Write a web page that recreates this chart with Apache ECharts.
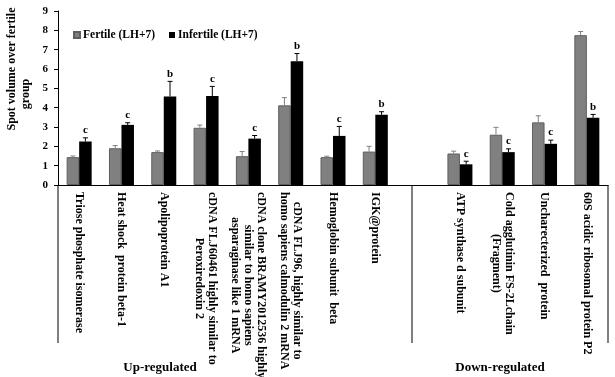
<!DOCTYPE html>
<html>
<head>
<meta charset="utf-8">
<script src="https://cdn.jsdelivr.net/npm/echarts@6/dist/echarts.min.js"></script>
<style>
  html, body { margin: 0; padding: 0; background: #fff; }
  #chart { width: 615px; height: 377px; }
</style>
</head>
<body>
<div id="chart"></div>
<script>
// protein spots, the empty one keeps the gap between the two groups
var categories = [
    'Triose phosphate isomerase',
    'Heat shock  protein beta-1',
    'Apolipoprotein A1',
    'cDNA FLJ60461 highly similar to\nPeroxiredoxin 2',
    'cDNA clone BRAMY2012536 highly\nsimilar to homo sapiens\nasparaginase like 1 mRNA',
    'cDNA FLJ96, highly similar to\nhomo sapiens calmodulin 2 mRNA',
    'Hemoglobin subunit  beta',
    'IGK@protein',
    '',
    'ATP synthase d subunit',
    'Cold agglutinin FS-2Lchain\n(Fragment)',
    'Uncharecterized  protein',
    '60S acidic ribosomal protein P2'
];
var fertile      = [1.44, 1.90, 1.70, 2.96, 1.49, 4.12, 1.44, 1.73, null, 1.63, 2.60, 3.24, 7.75];
var fertileErr   = [0.06, 0.14, 0.06, 0.14, 0.24, 0.40, 0.05, 0.27, null, 0.12, 0.38, 0.34, 0.19];
var infertile    = [2.25, 3.11, 4.58, 4.60, 2.40, 6.40, 2.54, 3.63, null, 1.07, 1.70, 2.13, 3.48];
var infertileErr = [0.19, 0.11, 0.78, 0.50, 0.16, 0.40, 0.49, 0.16, null, 0.16, 0.17, 0.19, 0.17];
var letters      = ['c', 'c', 'b', 'c', 'c', 'b', 'c', 'b', '', 'c', 'c', 'c', 'b'];
var yTicks = [0, 9, 1]; // min, max, interval
var groupNames = ['Up-regulated', 'Down-regulated'];

var FONT = 'Liberation Serif';
var BAR_W = 12.5;
var GRAY = '#808080';

function errData(vals, errs) {
    var out = [];
    for (var i = 0; i < vals.length; i++) {
        if (vals[i] == null) continue;
        out.push([i, vals[i], errs[i]]);
    }
    return out;
}

function errRender(offset, color, withLetter) {
    return function (params, api) {
        var i = api.value(0), v = api.value(1), e = api.value(2);
        var base = api.coord([i, v]);
        var top = api.coord([i, v + e]);
        var x = base[0] + offset;
        var kids = [
            { type: 'line', shape: { x1: x, y1: base[1], x2: x, y2: top[1] }, style: { stroke: color, lineWidth: 1 } },
            { type: 'line', shape: { x1: x - 2.5, y1: top[1], x2: x + 2.5, y2: top[1] }, style: { stroke: color, lineWidth: 1 } }
        ];
        if (withLetter) {
            kids.push({
                type: 'text',
                style: {
                    x: x, y: top[1] - 2, text: letters[i],
                    align: 'center', verticalAlign: 'bottom',
                    font: 'bold 11px "' + FONT + '"', fill: '#000'
                }
            });
        }
        return { type: 'group', children: kids };
    };
}

var chart = echarts.init(document.getElementById('chart'));

var option = {
    backgroundColor: '#fff',
    animation: false,
    textStyle: { fontFamily: FONT },
    legend: {
        data: ['Fertile (LH+7)', 'Infertile (LH+7)'],
        left: 68, top: 24,
        icon: 'rect', itemWidth: 6, itemHeight: 6, itemGap: 14,
        textStyle: { fontFamily: FONT, fontWeight: 'bold', fontSize: 11.5, color: '#000', padding: [0, 0, 0, -2] }
    },
    grid: { left: 58, right: 7, top: 11, bottom: 192, containLabel: false, outerBoundsMode: 'none' },
    xAxis: {
        type: 'category',
        data: categories,
        axisLine: { lineStyle: { color: '#000', width: 1 } },
        axisTick: { show: false },
        axisLabel: {
            interval: 0, rotate: -90, margin: 7,
            formatter: function (s) {
                return s.split('\n').map(function (l) { return '{c|' + l + '}'; }).join('\n');
            },
            rich: {
                c: { align: 'center', fontFamily: FONT, fontWeight: 'bold', fontSize: 12, color: '#000', lineHeight: 13 }
            }
        }
    },
    yAxis: {
        type: 'value',
        min: yTicks[0], max: yTicks[1], interval: yTicks[2],
        name: '{a|Spot volume over fertile}\n{b|group}',
        nameLocation: 'middle', nameGap: 24,
        nameTextStyle: {
            padding: [0, 0, 0, 58],
            rich: {
                a: { align: 'center', fontFamily: FONT, fontWeight: 'bold', fontSize: 12, color: '#000', lineHeight: 14 },
                b: { align: 'center', fontFamily: FONT, fontWeight: 'bold', fontSize: 12, color: '#000', lineHeight: 14, padding: [0, 50, 0, 0] }
            }
        },
        axisLine: { show: true, lineStyle: { color: '#000', width: 1 } },
        axisTick: { show: true, length: 4, lineStyle: { color: '#000' } },
        axisLabel: { margin: 10, fontFamily: FONT, fontWeight: 'bold', fontSize: 11, color: '#000' },
        splitLine: { show: false }
    },
    series: [
        {
            name: 'Fertile (LH+7)', type: 'bar', data: fertile,
            barWidth: BAR_W, barGap: '0%',
            itemStyle: { color: GRAY, borderColor: '#5e5e5e', borderWidth: 1 }
        },
        {
            name: 'Infertile (LH+7)', type: 'bar', data: infertile,
            barWidth: BAR_W, barGap: '0%',
            itemStyle: { color: '#000' }
        },
        {
            type: 'custom', data: errData(fertile, fertileErr),
            renderItem: errRender(-BAR_W / 2, GRAY, false), z: 3
        },
        {
            type: 'custom', data: errData(infertile, infertileErr),
            renderItem: errRender(BAR_W / 2, '#000', true), z: 3
        }
    ],
    graphic: [
        { type: 'line', shape: { x1: 58, y1: 185, x2: 58, y2: 343 }, style: { stroke: '#000', lineWidth: 1 } },
        { type: 'line', shape: { x1: 412, y1: 185, x2: 412, y2: 343 }, style: { stroke: '#000', lineWidth: 1 } },
        { type: 'line', shape: { x1: 608, y1: 185, x2: 608, y2: 343 }, style: { stroke: '#000', lineWidth: 1 } },
        { type: 'text', x: 160, y: 368, style: { text: groupNames[0], align: 'center', verticalAlign: 'middle', font: 'bold 13px "' + FONT + '"', fill: '#000' } },
        { type: 'text', x: 500, y: 368, style: { text: groupNames[1], align: 'center', verticalAlign: 'middle', font: 'bold 13px "' + FONT + '"', fill: '#000' } }
    ]
};

chart.setOption(option);
</script>
</body>
</html>
